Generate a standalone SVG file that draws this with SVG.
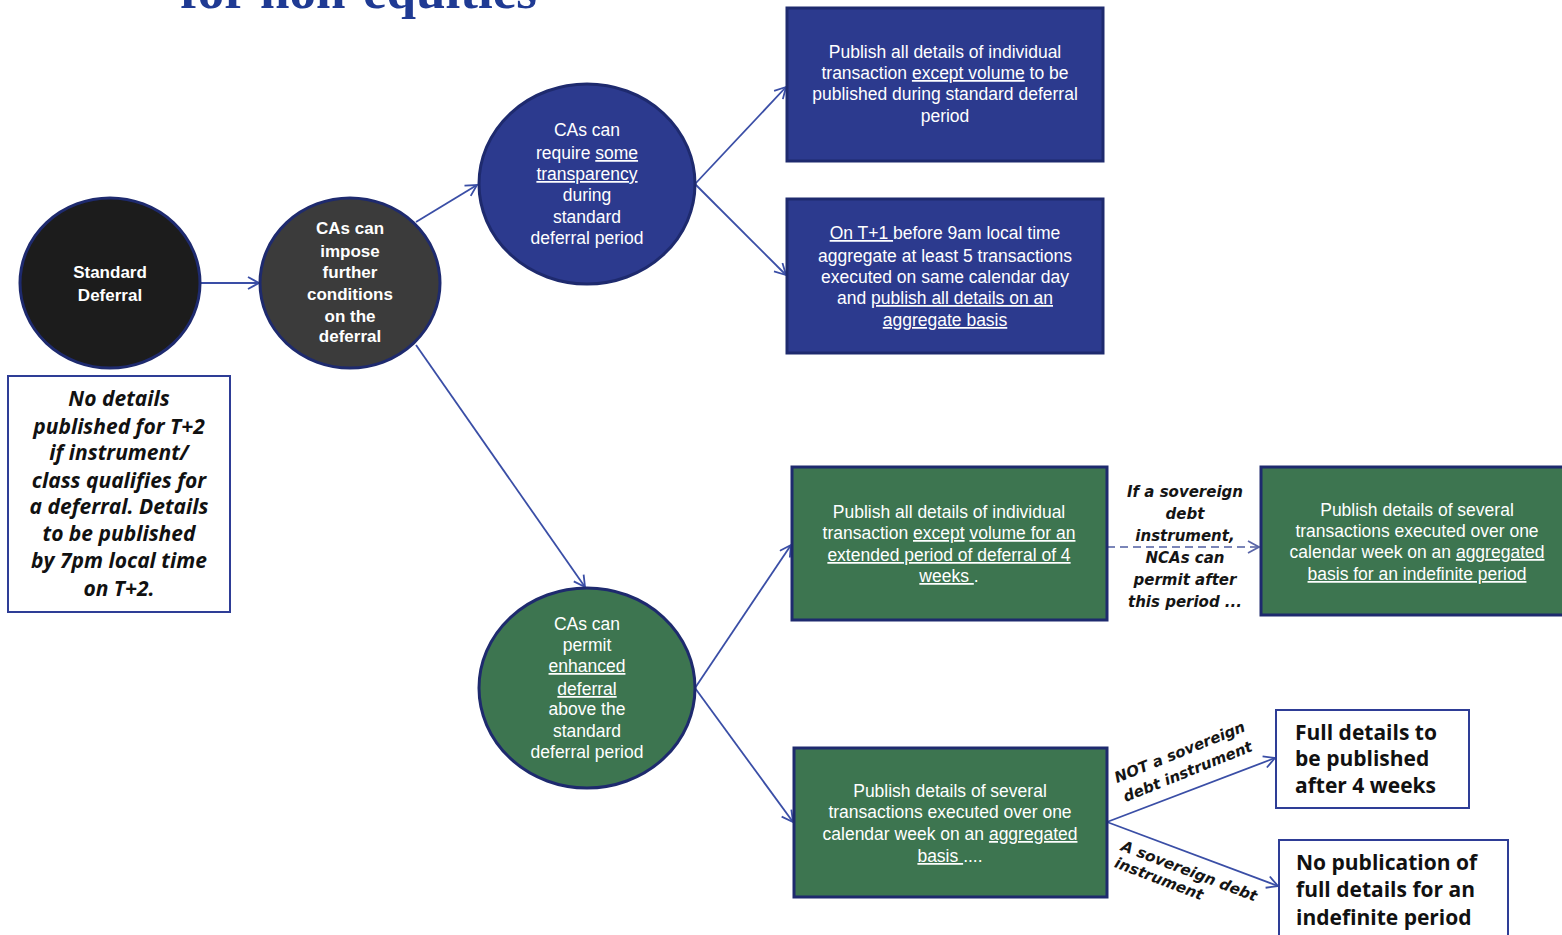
<svg xmlns="http://www.w3.org/2000/svg" width="1562" height="935" viewBox="0 0 1562 935">
<style>
.bg{fill:#ffffff}
.blue{fill:#2c3a8e;stroke:#1e2a6e;stroke-width:3}
.green{fill:#3d7550;stroke:#1e2a6e;stroke-width:3}
.white{fill:#ffffff;stroke:#2e3d96;stroke-width:2}
.wt{font-family:"Liberation Sans",Arial,sans-serif;font-size:17.5px;fill:#ffffff;text-anchor:middle}
.wb{font-family:"Liberation Sans",Arial,sans-serif;font-size:17px;font-weight:bold;fill:#ffffff;text-anchor:middle}
.u{text-decoration:underline}
.note{font-family:"Open Sans","Noto Sans",sans-serif;font-size:21px;font-weight:bold;fill:#111111}
.lbl{font-family:"DejaVu Sans",Verdana,sans-serif;font-size:15px;font-weight:bold;font-style:italic;fill:#151515}
.con{stroke:#3a4ea6;stroke-width:1.8;fill:none}
.dash{stroke:#7a85b8;stroke-width:2;fill:none;stroke-dasharray:8 5}
.title{font-family:"Liberation Serif","Times New Roman",serif;font-size:53px;font-weight:bold;fill:#1f3a93}
</style>
<defs>
<marker id="arr" markerUnits="userSpaceOnUse" markerWidth="16" markerHeight="16" refX="12" refY="7" orient="auto">
<path d="M1,1 L12,7 L1,13" fill="none" stroke="#3a4ea6" stroke-width="1.8"/>
</marker>
<marker id="arrd" markerUnits="userSpaceOnUse" markerWidth="16" markerHeight="16" refX="12" refY="7" orient="auto">
<path d="M1,1 L12,7 L1,13" fill="none" stroke="#5a66a8" stroke-width="1.8"/>
</marker>
</defs>
<rect class="bg" x="0" y="0" width="1562" height="935"/>
<text class="title" x="180" y="8">for non-equities</text>

<g id="connectors">
<line class="con" x1="200" y1="283" x2="259" y2="283" marker-end="url(#arr)"/>
<line class="con" x1="416" y1="222" x2="477" y2="185" marker-end="url(#arr)"/>
<line class="con" x1="416" y1="345" x2="585" y2="587" marker-end="url(#arr)"/>
<line class="con" x1="695" y1="184" x2="786" y2="87" marker-end="url(#arr)"/>
<line class="con" x1="695" y1="184" x2="786" y2="275" marker-end="url(#arr)"/>
<line class="con" x1="695" y1="688" x2="791" y2="545" marker-end="url(#arr)"/>
<line class="con" x1="695" y1="688" x2="793" y2="822" marker-end="url(#arr)"/>
<line class="dash" x1="1107" y1="547" x2="1259" y2="547" marker-end="url(#arrd)"/>
<line class="con" x1="1107" y1="822" x2="1275" y2="758" marker-end="url(#arr)"/>
<line class="con" x1="1107" y1="822" x2="1278" y2="886" marker-end="url(#arr)"/>
<text class="lbl" text-anchor="middle"><tspan x="1185" y="497">If a sovereign</tspan><tspan x="1185" y="519">debt</tspan><tspan x="1185" y="541">instrument,</tspan><tspan x="1185" y="563">NCAs can</tspan><tspan x="1185" y="585">permit after</tspan><tspan x="1185" y="607">this period ...</tspan></text>
<g transform="translate(1117,783) rotate(-22)"><text class="lbl"><tspan x="0" y="0">NOT a sovereign</tspan><tspan x="1" y="21">debt instrument</tspan></text></g>
<g transform="translate(1120,850) rotate(21)"><text class="lbl"><tspan x="0" y="0">A sovereign debt</tspan><tspan x="0" y="18">instrument</tspan></text></g>
</g>

<g id="n-standard">
<ellipse cx="110" cy="283" rx="90" ry="85" fill="#1c1c1c" stroke="#1e2a6e" stroke-width="3"/>
<text class="wb"><tspan x="110" y="278">Standard</tspan><tspan x="110" y="301">Deferral</tspan></text>
</g>

<g id="n-impose">
<ellipse cx="350" cy="283" rx="90" ry="85" fill="#3b3b3b" stroke="#1e2a6e" stroke-width="3"/>
<text class="wb"><tspan x="350" y="234">CAs can</tspan><tspan x="350" y="257">impose</tspan><tspan x="350" y="278">further</tspan><tspan x="350" y="300">conditions</tspan><tspan x="350" y="322">on the</tspan><tspan x="350" y="342">deferral</tspan></text>
</g>

<g id="n-note">
<rect class="white" x="8" y="376" width="222" height="236"/>
<text class="note" text-anchor="middle" font-style="italic"><tspan x="119" y="406">No details</tspan><tspan x="119" y="434">published for T+2</tspan><tspan x="119" y="460">if instrument/</tspan><tspan x="119" y="488">class qualifies for</tspan><tspan x="119" y="514">a deferral. Details</tspan><tspan x="119" y="541">to be published</tspan><tspan x="119" y="568">by 7pm local time</tspan><tspan x="119" y="596">on T+2.</tspan></text>
</g>

<g id="n-require">
<ellipse cx="587" cy="184" rx="108" ry="100" class="blue"/>
<text class="wt"><tspan x="587" y="136">CAs can</tspan><tspan x="587" y="159">require <tspan class="u">some</tspan></tspan><tspan x="587" y="180" class="u">transparency</tspan><tspan x="587" y="201">during</tspan><tspan x="587" y="223">standard</tspan><tspan x="587" y="244">deferral period</tspan></text>
</g>

<g id="n-box-individual">
<rect class="blue" x="787" y="8" width="316" height="153"/>
<text class="wt"><tspan x="945" y="58">Publish all details of individual</tspan><tspan x="945" y="79">transaction <tspan class="u">except volume</tspan> to be</tspan><tspan x="945" y="100">published during standard deferral</tspan><tspan x="945" y="122">period</tspan></text>
</g>

<g id="n-box-t1">
<rect class="blue" x="787" y="199" width="316" height="154"/>
<text class="wt"><tspan x="945" y="239"><tspan class="u">On T+1 </tspan>before 9am local time</tspan><tspan x="945" y="262">aggregate at least 5 transactions</tspan><tspan x="945" y="283">executed on same calendar day</tspan><tspan x="945" y="304">and <tspan class="u">publish all details on an</tspan></tspan><tspan x="945" y="326" class="u">aggregate basis</tspan></text>
</g>

<g id="n-enhanced">
<ellipse cx="587" cy="688" rx="108" ry="100" class="green"/>
<text class="wt"><tspan x="587" y="630">CAs can</tspan><tspan x="587" y="651">permit</tspan><tspan x="587" y="672" class="u">enhanced</tspan><tspan x="587" y="695" class="u">deferral</tspan><tspan x="587" y="715">above the</tspan><tspan x="587" y="737">standard</tspan><tspan x="587" y="758">deferral period</tspan></text>
</g>

<g id="n-box-4weeks">
<rect class="green" x="792" y="467" width="315" height="153"/>
<text class="wt"><tspan x="949" y="518">Publish all details of individual</tspan><tspan x="949" y="539">transaction <tspan class="u">except</tspan> <tspan class="u">volume for an</tspan></tspan><tspan x="949" y="561" class="u">extended period of deferral of 4</tspan><tspan x="949" y="582"><tspan class="u">weeks </tspan>.</tspan></text>
</g>

<g id="n-box-indefinite">
<rect class="green" x="1261" y="467" width="304" height="148"/>
<text class="wt"><tspan x="1417" y="516">Publish details of several</tspan><tspan x="1417" y="537">transactions executed over one</tspan><tspan x="1417" y="558">calendar week on an <tspan class="u">aggregated</tspan></tspan><tspan x="1417" y="580" class="u">basis for an indefinite period</tspan></text>
</g>

<g id="n-box-weekly">
<rect class="green" x="794" y="748" width="313" height="149"/>
<text class="wt"><tspan x="950" y="797">Publish details of several</tspan><tspan x="950" y="818">transactions executed over one</tspan><tspan x="950" y="840">calendar week on an <tspan class="u">aggregated</tspan></tspan><tspan x="950" y="862"><tspan class="u">basis </tspan>....</tspan></text>
</g>

<g id="n-full">
<rect class="white" x="1276" y="710" width="193" height="98"/>
<text class="note" font-size="22px"><tspan x="1295" y="740">Full details to</tspan><tspan x="1295" y="766">be published</tspan><tspan x="1295" y="793">after 4 weeks</tspan></text>
</g>

<g id="n-nopub">
<rect class="white" x="1279" y="840" width="229" height="100"/>
<text class="note" font-size="22px"><tspan x="1296" y="870">No publication of</tspan><tspan x="1296" y="897">full details for an</tspan><tspan x="1296" y="925">indefinite period</tspan></text>
</g>
</svg>
